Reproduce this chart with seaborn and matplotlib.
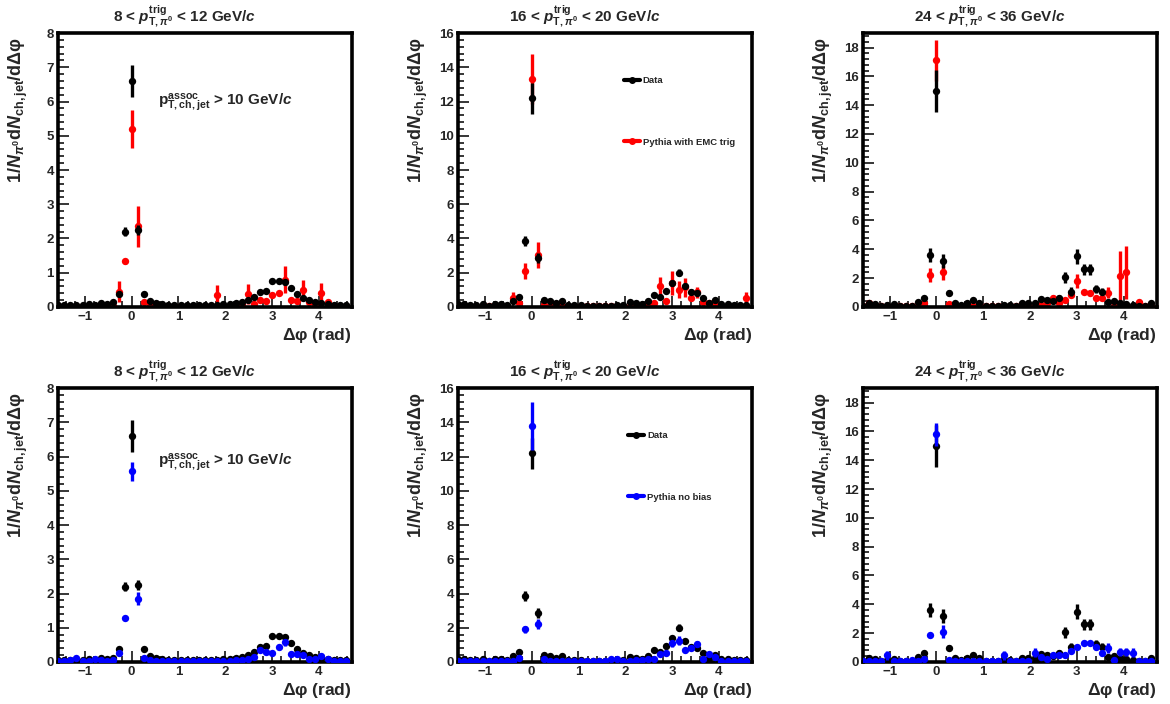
"""Correlaciones azimutales pi0 - jet cargado: datos vs Pythia."""
import matplotlib
matplotlib.use("Agg")
import matplotlib.pyplot as plt
from matplotlib.lines import Line2D
from matplotlib.ticker import MultipleLocator
import numpy as np
import seaborn as sns

# centros de bin: k*pi/24, k=-12..35
DPHI = np.arange(-12, 36) * np.pi / 24

# ---- 8 < pT < 12 ---------------------------------------------------------
data_1 = [0.05, 0.05, 0.06, 0.06, 0.07, 0.08, 0.07, 0.12, 0.10, 0.13, 0.38, 2.20,
          6.60, 2.25, 0.37, 0.17, 0.12, 0.08, 0.07, 0.06, 0.05, 0.05, 0.05, 0.05,
          0.06, 0.06, 0.07, 0.08, 0.09, 0.12, 0.15, 0.20, 0.30, 0.43, 0.46, 0.75,
          0.76, 0.73, 0.55, 0.37, 0.25, 0.20, 0.15, 0.12, 0.08, 0.06, 0.05, 0.05]
data_1_err = [0.02, 0.02, 0.02, 0.02, 0.02, 0.02, 0.02, 0.03, 0.03, 0.03, 0.06, 0.14,
              0.47, 0.15, 0.05, 0.03, 0.03, 0.02, 0.02, 0.02, 0.02, 0.02, 0.02, 0.02,
              0.02, 0.02, 0.02, 0.02, 0.02, 0.03, 0.03, 0.03, 0.04, 0.04, 0.04, 0.05,
              0.05, 0.05, 0.04, 0.04, 0.03, 0.03, 0.03, 0.03, 0.02, 0.02, 0.02, 0.02]
emc_1 = [0.03, 0.02, 0.03, 0.02, 0.03, 0.02, 0.03, 0.02, 0.03, 0.04, 0.45, 1.33,
         5.20, 2.35, 0.13, 0.08, 0.04, 0.03, 0.02, 0.03, 0.02, 0.02, 0.03, 0.02,
         0.02, 0.03, 0.35, 0.03, 0.04, 0.05, 0.06, 0.38, 0.10, 0.20, 0.18, 0.35,
         0.42, 0.80, 0.20, 0.18, 0.50, 0.15, 0.10, 0.40, 0.15, 0.04, 0.03, 0.04]
emc_1_err = [0.02, 0.02, 0.02, 0.02, 0.02, 0.02, 0.02, 0.02, 0.02, 0.03, 0.30, 0.08,
             0.55, 0.60, 0.05, 0.04, 0.02, 0.02, 0.02, 0.02, 0.02, 0.02, 0.02, 0.02,
             0.02, 0.02, 0.30, 0.02, 0.02, 0.03, 0.03, 0.28, 0.04, 0.05, 0.05, 0.06,
             0.06, 0.40, 0.05, 0.05, 0.30, 0.05, 0.04, 0.30, 0.06, 0.02, 0.02, 0.02]
nobias_1 = [0.03, 0.03, 0.05, 0.12, 0.03, 0.04, 0.10, 0.05, 0.04, 0.05, 0.27, 1.27,
            5.57, 1.85, 0.13, 0.06, 0.04, 0.03, 0.03, 0.02, 0.02, 0.02, 0.02, 0.02,
            0.02, 0.03, 0.03, 0.03, 0.04, 0.05, 0.06, 0.08, 0.15, 0.35, 0.30, 0.25,
            0.43, 0.58, 0.23, 0.22, 0.20, 0.10, 0.10, 0.17, 0.08, 0.04, 0.03, 0.03]
nobias_1_err = [0.01, 0.01, 0.02, 0.03, 0.01, 0.02, 0.03, 0.02, 0.02, 0.02, 0.04, 0.04,
                0.27, 0.20, 0.03, 0.02, 0.01, 0.01, 0.01, 0.01, 0.01, 0.01, 0.01, 0.01,
                0.01, 0.01, 0.01, 0.01, 0.02, 0.02, 0.02, 0.02, 0.03, 0.05, 0.05, 0.04,
                0.05, 0.10, 0.04, 0.04, 0.04, 0.03, 0.03, 0.03, 0.02, 0.01, 0.01, 0.01]

# ---- 16 < pT < 20 --------------------------------------------------------
data_2 = [0.15, 0.15, 0.10, 0.10, 0.20, 0.08, 0.15, 0.15, 0.12, 0.35, 0.58, 3.85,
          12.2, 2.85, 0.38, 0.35, 0.25, 0.35, 0.12, 0.10, 0.10, 0.08, 0.05, 0.05,
          0.08, 0.08, 0.12, 0.10, 0.28, 0.25, 0.20, 0.35, 0.68, 0.60, 0.95, 1.38,
          2.00, 1.20, 0.90, 0.82, 0.55, 0.25, 0.43, 0.15, 0.15, 0.10, 0.10, 0.10]
data_2_err = [0.05, 0.05, 0.05, 0.05, 0.15, 0.05, 0.05, 0.05, 0.05, 0.08, 0.10, 0.30,
              0.90, 0.30, 0.08, 0.08, 0.06, 0.08, 0.05, 0.05, 0.05, 0.05, 0.04, 0.04,
              0.05, 0.05, 0.05, 0.05, 0.07, 0.07, 0.06, 0.08, 0.10, 0.10, 0.12, 0.15,
              0.20, 0.13, 0.12, 0.12, 0.10, 0.06, 0.08, 0.05, 0.05, 0.05, 0.05, 0.05]
emc_2 = [0.05, 0.04, 0.05, 0.04, 0.05, 0.04, 0.05, 0.05, 0.04, 0.55, 0.25, 2.10,
         13.3, 3.05, 0.10, 0.05, 0.05, 0.04, 0.05, 0.04, 0.05, 0.04, 0.04, 0.05,
         0.04, 0.05, 0.05, 0.06, 0.08, 0.08, 0.10, 0.12, 0.25, 1.20, 0.35, 1.40,
         1.00, 1.15, 0.55, 0.85, 0.30, 0.25, 0.25, 0.08, 0.06, 0.05, 0.05, 0.55]
emc_2_err = [0.03, 0.03, 0.03, 0.03, 0.03, 0.03, 0.03, 0.03, 0.03, 0.35, 0.10, 0.45,
             1.45, 0.75, 0.05, 0.03, 0.03, 0.03, 0.03, 0.03, 0.03, 0.03, 0.03, 0.03,
             0.03, 0.03, 0.03, 0.03, 0.04, 0.04, 0.05, 0.05, 0.08, 0.55, 0.10, 0.70,
             0.50, 0.55, 0.12, 0.30, 0.10, 0.08, 0.08, 0.04, 0.03, 0.03, 0.03, 0.30]
nobias_2 = [0.05, 0.04, 0.05, 0.04, 0.05, 0.04, 0.05, 0.05, 0.04, 0.05, 0.25, 1.90,
            13.8, 2.20, 0.15, 0.06, 0.05, 0.05, 0.05, 0.04, 0.05, 0.04, 0.04, 0.05,
            0.05, 0.20, 0.20, 0.06, 0.08, 0.10, 0.10, 0.15, 0.20, 0.45, 0.55, 1.10,
            1.25, 0.70, 0.80, 1.05, 0.20, 0.45, 0.30, 0.08, 0.06, 0.05, 0.05, 0.05]
nobias_2_err = [0.03, 0.03, 0.03, 0.03, 0.03, 0.03, 0.03, 0.03, 0.03, 0.03, 0.06, 0.20,
                1.40, 0.30, 0.04, 0.03, 0.03, 0.03, 0.03, 0.03, 0.03, 0.03, 0.03, 0.03,
                0.03, 0.06, 0.06, 0.03, 0.04, 0.04, 0.04, 0.05, 0.06, 0.08, 0.08, 0.20,
                0.25, 0.10, 0.10, 0.20, 0.05, 0.08, 0.06, 0.03, 0.03, 0.03, 0.03, 0.03]

# ---- 24 < pT < 36 --------------------------------------------------------
data_3 = [0.10, 0.25, 0.20, 0.05, 0.15, 0.20, 0.05, 0.10, 0.05, 0.35, 0.60, 3.60,
          15.0, 3.20, 1.00, 0.30, 0.15, 0.25, 0.45, 0.30, 0.05, 0.10, 0.05, 0.15,
          0.15, 0.05, 0.30, 0.30, 0.25, 0.55, 0.45, 0.40, 0.65, 2.05, 1.05, 3.50,
          2.60, 2.60, 1.25, 1.05, 0.35, 0.40, 0.25, 0.20, 0.15, 0.10, 0.10, 0.30]
data_3_err = [0.08, 0.10, 0.10, 0.05, 0.20, 0.10, 0.05, 0.08, 0.05, 0.12, 0.15, 0.50,
              1.45, 0.50, 0.20, 0.10, 0.08, 0.10, 0.12, 0.10, 0.05, 0.08, 0.05, 0.08,
              0.08, 0.05, 0.10, 0.10, 0.10, 0.12, 0.12, 0.10, 0.15, 0.40, 0.30, 0.55,
              0.40, 0.40, 0.25, 0.25, 0.12, 0.12, 0.10, 0.10, 0.08, 0.08, 0.08, 0.10]
emc_3 = [0.05, 0.30, 0.05, 0.05, 0.05, 0.05, 0.05, 0.05, 0.05, 0.10, 0.25, 2.20,
         17.1, 2.40, 0.20, 0.05, 0.05, 0.05, 0.05, 0.05, 0.05, 0.05, 0.05, 0.05,
         0.05, 0.05, 0.05, 0.05, 0.10, 0.15, 0.30, 0.65, 0.30, 0.50, 0.85, 1.80,
         1.05, 0.95, 0.60, 0.60, 1.00, 0.10, 2.15, 2.40, 0.10, 0.35, 0.05, 0.05]
emc_3_err = [0.04, 0.10, 0.04, 0.04, 0.04, 0.04, 0.04, 0.04, 0.04, 0.05, 0.10, 0.50,
             1.45, 0.50, 0.08, 0.04, 0.04, 0.04, 0.04, 0.04, 0.04, 0.04, 0.04, 0.04,
             0.04, 0.04, 0.04, 0.04, 0.05, 0.06, 0.10, 0.15, 0.10, 0.12, 0.15, 0.50,
             0.12, 0.12, 0.10, 0.10, 0.40, 0.05, 1.75, 1.85, 0.05, 0.10, 0.04, 0.04]
nobias_3 = [0.05, 0.05, 0.05, 0.10, 0.45, 0.05, 0.10, 0.05, 0.15, 0.10, 0.20, 1.85,
            15.8, 2.10, 0.15, 0.05, 0.05, 0.05, 0.05, 0.05, 0.05, 0.05, 0.05, 0.45,
            0.05, 0.05, 0.05, 0.05, 0.65, 0.35, 0.20, 0.50, 0.45, 0.50, 0.75, 1.05,
            1.30, 1.30, 1.05, 0.65, 1.00, 0.15, 0.70, 0.70, 0.65, 0.05, 0.05, 0.05]
nobias_3_err = [0.04, 0.04, 0.04, 0.06, 0.30, 0.04, 0.06, 0.04, 0.08, 0.06, 0.08, 0.15,
                0.80, 0.45, 0.06, 0.04, 0.04, 0.04, 0.04, 0.04, 0.04, 0.04, 0.04, 0.30,
                0.04, 0.04, 0.04, 0.04, 0.30, 0.10, 0.08, 0.12, 0.10, 0.10, 0.12, 0.12,
                0.12, 0.12, 0.12, 0.10, 0.35, 0.05, 0.30, 0.30, 0.30, 0.04, 0.04, 0.04]

TITLES = ["8 < ", "16 < ", "24 < "]
TITLE_HI = ["12", "20", "36"]
YMAX = [8, 16, 19]
YSTEP = [1, 2, 2]
DATA = [(data_1, data_1_err), (data_2, data_2_err), (data_3, data_3_err)]
EMC = [(emc_1, emc_1_err), (emc_2, emc_2_err), (emc_3, emc_3_err)]
NOBIAS = [(nobias_1, nobias_1_err), (nobias_2, nobias_2_err), (nobias_3, nobias_3_err)]

sns.set_theme(style="ticks")
plt.rcParams.update({
    "font.family": ["Liberation Sans", "DejaVu Sans"],
    "font.weight": "bold",
    "axes.labelweight": "bold",
    "axes.titleweight": "bold",
    "mathtext.fontset": "custom",
    "mathtext.rm": "Liberation Sans:bold",
    "mathtext.bf": "Liberation Sans:bold",
    "mathtext.it": "Liberation Sans:italic:bold",
    "mathtext.sf": "Liberation Sans",
    "axes.linewidth": 2.6,
    "axes.edgecolor": "black",
})

# Δφ en fuente normal (no negrita), como el símbolo de ROOT
DPHI_TXT = r"$\mathsf{Δφ}$"


def draw(ax, vals, errs, color, z):
    ax.errorbar(DPHI, vals, yerr=errs, fmt="none", ecolor=color,
                elinewidth=2.4, capsize=0, zorder=z)
    sns.scatterplot(x=DPHI, y=vals, color=color, s=28, linewidth=0,
                    ax=ax, zorder=z + 0.5, legend=False)


fig = plt.figure(figsize=(11.7, 7.04), dpi=100)
lefts = [0.0496, 0.3915, 0.7376]
bottoms = [0.564, 0.0597]
width, height = 0.2513, 0.389

for row in range(2):
    for col in range(3):
        ax = fig.add_axes([lefts[col], bottoms[row], width, height])
        if row == 0:
            draw(ax, *EMC[col], "#ff0000", 2)
            draw(ax, *DATA[col], "black", 4)
        else:
            draw(ax, *DATA[col], "black", 2)
            draw(ax, *NOBIAS[col], "#0000ff", 4)

        ax.set_xlim(-np.pi / 2, 3 * np.pi / 2)
        ax.set_ylim(0, YMAX[col])
        ax.xaxis.set_major_locator(MultipleLocator(1))
        ax.xaxis.set_minor_locator(MultipleLocator(0.2))
        ax.yaxis.set_major_locator(MultipleLocator(YSTEP[col]))
        ax.yaxis.set_minor_locator(MultipleLocator(YSTEP[col] / 5))
        ax.tick_params(which="both", direction="in", top=False, right=False,
                       width=1.3, labelsize=9.5, pad=3)
        ax.tick_params(which="major", length=8)
        ax.tick_params(which="minor", length=4)
        for lab in ax.get_xticklabels() + ax.get_yticklabels():
            lab.set_fontweight("bold")

        ax.set_title(TITLES[col] + r"$\mathit{p}^{\mathrm{trig}}_{\mathrm{T},\pi^{0}}$ < "
                     + TITLE_HI[col] + r" GeV/$\mathit{c}$",
                     fontsize=11, x=0.43, pad=8)
        ax.set_ylabel(r"1/$\mathit{N}_{\pi^{0}}$d$\mathit{N}_{\mathrm{ch,jet}}$/d"
                      + DPHI_TXT, fontsize=13, loc="top")
        ax.yaxis.set_label_coords(-0.095, 0.985)
        ax.set_xlabel(DPHI_TXT + " (rad)", fontsize=12.5, loc="right")
        ax.xaxis.set_label_coords(1.0, -0.068)

        if col == 0:
            ax.text(0.34, 0.75 if row == 0 else 0.73,
                    r"$\mathrm{p}^{\mathrm{assoc}}_{\mathrm{T,ch,jet}}$ > 10 GeV/$\mathit{c}$",
                    transform=ax.transAxes, fontsize=11, fontweight="bold",
                    va="center", ha="left")
        if col == 1:
            mc_color = "#ff0000" if row == 0 else "#0000ff"
            mc_label = "Pythia with EMC trig" if row == 0 else "Pythia no bias"
            handles = [Line2D([], [], color="black", marker="o", lw=3, ms=4),
                       Line2D([], [], color=mc_color, marker="o", lw=3, ms=4)]
            ax.legend(handles, ["Data", mc_label], loc="upper left",
                      bbox_to_anchor=(0.535 if row == 0 else 0.55, 0.875),
                      frameon=False, handlelength=1.7, handletextpad=0.3,
                      labelspacing=5.6, prop={"size": 6.8, "weight": "bold"})

fig.savefig("out.png", dpi=100)
